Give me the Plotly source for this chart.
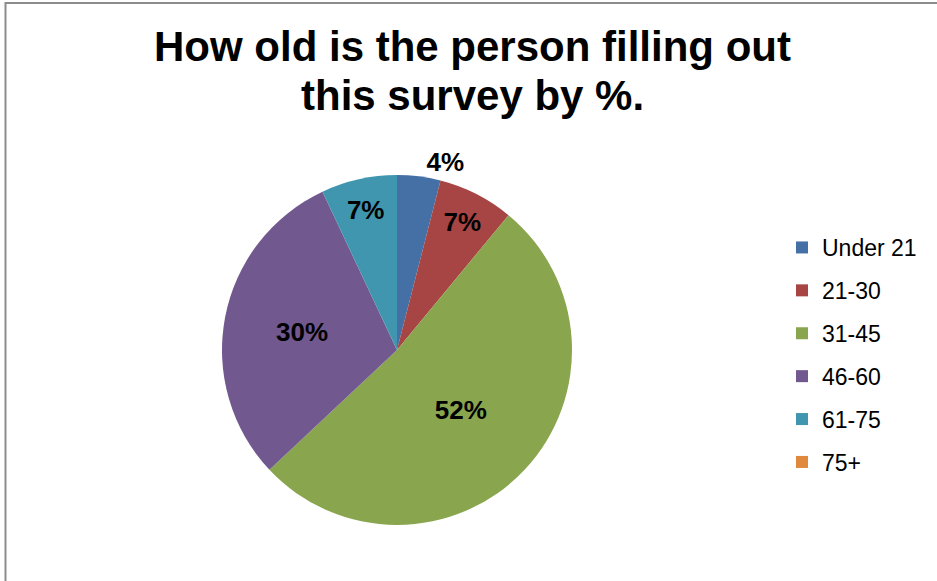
import plotly.graph_objects as go

categories = ["Under 21", "21-30", "31-45", "46-60", "61-75", "75+"]
percentages = [4, 7, 52, 30, 7, 0]
colors = ["#4470A5", "#A64544", "#89A54E", "#71588F", "#4096AE", "#E0883C"]
text_positions = ["outside", "inside", "inside", "inside", "inside", "inside"]
title_lines = ["How old is the person filling out", "this survey by %."]

W, H = 937, 581
FONT = "Arial, Liberation Sans, sans-serif"

fig = go.Figure()
fig.add_trace(
    go.Pie(
        labels=categories,
        values=percentages,
        sort=False,
        direction="clockwise",
        rotation=0,
        marker=dict(colors=colors, line=dict(width=0)),
        texttemplate="%{value}%",
        textposition=text_positions,
        textfont=dict(family=FONT, size=26, color="black", weight="bold"),
        insidetextorientation="horizontal",
        domain=dict(x=[222 / W, 572 / W], y=[1 - 525 / H, 1 - 175 / H]),
        hoverinfo="label+percent",
        showlegend=False,
    )
)

# legend entries (one per category, so they can be spaced like the original)
for cat, col in zip(categories, colors):
    fig.add_trace(
        go.Scatter(
            x=[None],
            y=[None],
            mode="markers",
            name=cat,
            legendgroup=cat,
            marker=dict(symbol="square", size=12, color=col),
            hoverinfo="skip",
        )
    )

title_centers = [47, 95]
annotations = [
    dict(
        text=line,
        xref="paper",
        yref="paper",
        x=472 / W,
        y=1 - yc / H,
        xanchor="center",
        yanchor="middle",
        showarrow=False,
        font=dict(family=FONT, size=42, color="black", weight="bold"),
    )
    for line, yc in zip(title_lines, title_centers)
]

fig.update_layout(
    width=W,
    height=H,
    margin=dict(l=0, r=0, t=0, b=0),
    paper_bgcolor="white",
    plot_bgcolor="white",
    font=dict(family=FONT, color="black"),
    annotations=annotations,
    xaxis=dict(visible=False),
    yaxis=dict(visible=False),
    legend=dict(
        x=782 / W,
        xanchor="left",
        y=1 - 355 / H,
        yanchor="middle",
        font=dict(size=23, color="black"),
        bgcolor="rgba(0,0,0,0)",
        tracegroupgap=10,
    ),
    shapes=[
        dict(
            type="rect",
            xref="paper",
            yref="paper",
            x0=5.5 / W,
            x1=1.01,
            y0=-0.02,
            y1=1 - 3 / H,
            line=dict(color="#8C8C8C", width=2),
            fillcolor="rgba(0,0,0,0)",
        )
    ],
)

fig.write_html(
    "out.html",
    config={"displayModeBar": False},
    post_script="document.body.style.margin='0';",
)
